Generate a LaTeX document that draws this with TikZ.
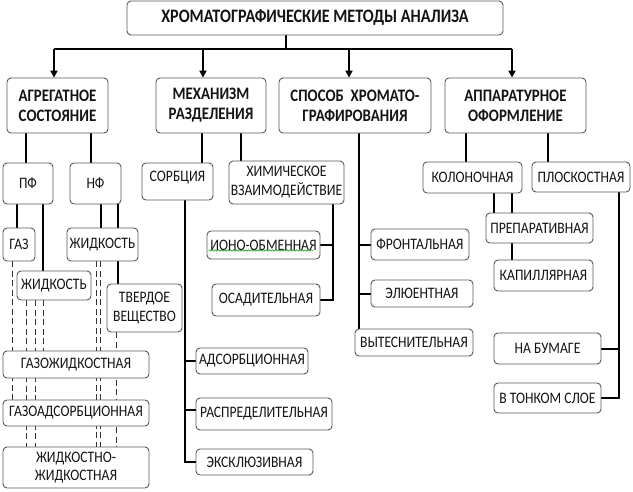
\documentclass[tikz,border=0pt]{standalone}
\usepackage{fontspec}
\setmainfont{Carlito}[FakeStretch=0.85]
\usetikzlibrary{arrows.meta,calc,decorations.pathmorphing}
\pgfdeclarelayer{bg}
\pgfsetlayers{bg,main}
\newcommand{\bx}[7][]{\node[box,minimum width={(#5-#3)*1pt},minimum height={(#6-#4)*1pt},#1] (#2) at ({(#3+#5)/2},{-(#4+#6)/2}) {#7};}
\begin{document}
\begin{tikzpicture}[x=1pt,y=1pt,
  box/.style={draw=black!65,line width=0.9pt,rounded corners=4pt,fill=white,inner sep=0pt,align=center,
    text=black!92,font=\fontsize{16}{19}\selectfont},
  head/.style={font=\fontsize{17.5}{20}\selectfont\bfseries},
  titlebox/.style={font=\fontsize{19}{20}\selectfont\bfseries},
  conn/.style={line width=2pt,black},
  arr/.style={conn,-{Triangle[length=7pt,width=7pt]}},
  dsh/.style={line width=0.9pt,black!80,dash pattern=on 6pt off 3.5pt}]
\useasboundingbox (0,0) rectangle (633,-491);
% boxes
\bx[titlebox]{title}{127}{1}{503}{35}{ХРОМАТОГРАФИЧЕСКИЕ МЕТОДЫ АНАЛИЗА}
\bx[head]{agr}{7}{78}{108}{133}{АГРЕГАТНОЕ\\СОСТОЯНИЕ}
\bx[head]{mex}{156}{78}{266}{133}{МЕХАНИЗМ\\РАЗДЕЛЕНИЯ}
\bx[head]{spo}{279}{78}{431}{133}{СПОСОБ\ \ ХРОМАТО-\\ГРАФИРОВАНИЯ}
\bx[head]{app}{445}{78}{586}{133}{АППАРАТУРНОЕ\\ОФОРМЛЕНИЕ}
\bx{pf}{3}{163}{53}{204}{ПФ}
\bx{nf}{70}{163}{121}{204}{НФ}
\bx[text depth=10pt]{sorb}{142}{163}{213}{200}{СОРБЦИЯ}
\bx{him}{229}{161}{344}{204}{ХИМИЧЕСКОЕ\\ВЗАИМОДЕЙСТВИЕ}
\bx{gaz}{3}{228}{35}{261}{ГАЗ}
\bx{zh2}{67}{228}{138}{261}{ЖИДКОСТЬ}
\bx{zh1}{17}{271}{91}{300}{ЖИДКОСТЬ}
\bx{tv}{107}{284}{182}{332}{ТВЕРДОЕ\\ВЕЩЕСТВО}
\bx{gzh}{3}{351}{149}{378}{ГАЗОЖИДКОСТНАЯ}
\bx{gads}{3}{400}{149}{426}{ГАЗОАДСОРБЦИОННАЯ}
\bx[font=\fontsize{16}{18}\selectfont]{zhzh}{3}{447}{149}{488}{ЖИДКОСТНО-\\ЖИДКОСТНАЯ}
\bx{ads}{196}{348}{308}{374}{АДСОРБЦИОННАЯ}
\bx{rasp}{196}{398}{332}{430}{РАСПРЕДЕЛИТЕЛЬНАЯ}
\bx{eks}{196}{449}{313}{475}{ЭКСКЛЮЗИВНАЯ}
\bx{ion}{207}{231}{320}{259}{ИОНО-ОБМЕННАЯ}
\bx{osad}{212}{284}{320}{316}{ОСАДИТЕЛЬНАЯ}
\bx{front}{371}{229}{469}{260}{ФРОНТАЛЬНАЯ}
\bx{elu}{371}{280}{473}{307}{ЭЛЮЕНТНАЯ}
\bx{vyt}{355}{329}{473}{356}{ВЫТЕСНИТЕЛЬНАЯ}
\bx{kol}{423}{162}{522}{193}{КОЛОНОЧНАЯ}
\bx{plo}{532}{162}{630}{192}{ПЛОСКОСТНАЯ}
\bx{prep}{486}{213}{593}{243}{ПРЕПАРАТИВНАЯ}
\bx{kap}{494}{260}{593}{291}{КАПИЛЛЯРНАЯ}
\bx{bum}{494}{333}{601}{364}{НА БУМАГЕ}
\bx{ton}{494}{383}{601}{413}{В ТОНКОМ СЛОЕ}
% spell-check squiggle
\draw[green!60!black,line width=0.5pt,decorate,decoration={snake,amplitude=0.8pt,segment length=3pt}]
  ($(ion.south west)+(2,9)$) -- ($(ion.south east)+(-7,9)$);
\begin{pgfonlayer}{bg}
% top distribution
\coordinate (barL) at (54,-49);
\coordinate (barR) at (512,-49);
\draw[conn] (title.south -| 286,0) -- (barL -| 286,0);
\draw[conn] (barL) -- (barR);
\draw[arr] (barL) -- (barL |- agr.north);
\draw[arr] (barL -| 203,0) -- (mex.north -| 203,0);
\draw[arr] (barL -| 349,0) -- (spo.north -| 349,0);
\draw[arr] (barR) -- (barR |- app.north);
% aggregate state
\draw[conn] (agr.south -| 26,0) -- (pf.north -| 26,0);
\draw[conn] (agr.south -| 91,0) -- (nf.north -| 91,0);
\draw[conn] (pf.south -| 17,0) -- (gaz.north -| 17,0);
\draw[conn] (pf.south -| 43,0) -- (zh1.north -| 43,0);
\draw[conn] (nf.south -| 101,0) -- (zh2.north -| 101,0);
\draw[conn] (nf.south -| 118,0) -- (tv.north -| 118,0);
\draw[dsh] (gaz.south -| 12,0) -- (gads.north -| 12,0);
\draw[dsh] (zh1.south -| 26,0) -- (zhzh.north -| 26,0);
\draw[dsh] (zh1.south -| 35,0) -- (zhzh.north -| 35,0);
\draw[dsh] (zh1.south -| 43,0) -- (gzh.north -| 43,0);
\draw[dsh] (zh2.south -| 96.5,0) -- (zhzh.north -| 96.5,0);
\draw[dsh] (zh2.south -| 100.5,0) -- (zhzh.north -| 100.5,0);
\draw[dsh] (tv.south -| 116,0) -- (zhzh.north -| 116,0);
% mechanism
\draw[conn] (mex.south -| 202,0) -- (sorb.north -| 202,0);
\draw[conn] (mex.south -| 241,0) -- (him.north -| 241,0);
\draw[conn] (sorb.south -| 185,0) |- (eks.west);
\draw[conn] (ads.west) -- (ads.west -| 185,0);
\draw[conn] ([yshift=4pt]rasp.west) -- ([yshift=4pt]rasp.west -| 185,0);
\draw[conn] (him.south -| 333,0) |- (osad.east);
\draw[conn] (ion.east) -- (ion.east -| 333,0);
% method
\draw[conn] (spo.south -| 359,0) -- (vyt.north -| 359,0);
\draw[conn] (front.west) -- (front.west -| 359,0);
\draw[conn] (elu.west) -- (elu.west -| 359,0);
% apparatus
\draw[conn] (app.south -| 466,0) -- (kol.north -| 466,0);
\draw[conn] (app.south -| 548,0) -- (plo.north -| 548,0);
\draw[conn] (kol.south -| 494,0) -- (prep.north -| 494,0);
\draw[conn] (kol.south -| 512,0) -- (kap.north -| 512,0);
\draw[conn] (plo.south -| 619,0) |- (ton.east);
\draw[conn] (bum.east) -- (bum.east -| 619,0);
\end{pgfonlayer}
\end{tikzpicture}
\end{document}
